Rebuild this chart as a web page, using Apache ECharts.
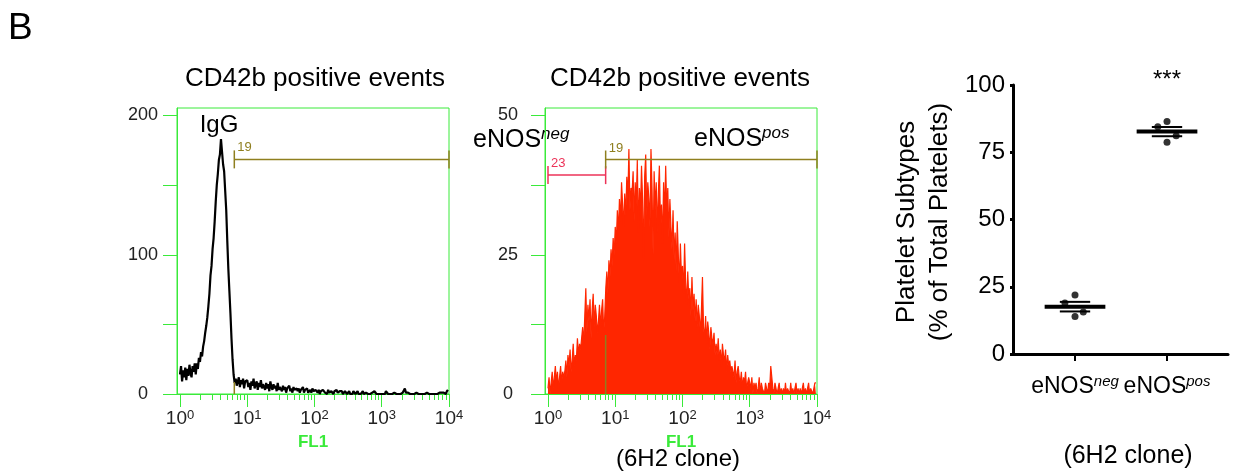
<!DOCTYPE html>
<html>
<head>
<meta charset="utf-8">
<script src="https://cdn.jsdelivr.net/npm/echarts@6/dist/echarts.min.js"></script>
<style>
  html, body { margin: 0; padding: 0; background: #fff; }
  #chart { width: 1252px; height: 475px; }
</style>
</head>
<body>
<div id="chart"></div>
<script>
  // FL1 histogram counts, 256 channels spread over 4 decades (64 per decade)
  const igGCounts = [
    14, 20, 9, 17, 12, 19, 10, 18, 13, 21, 15, 12, 20, 16, 22, 14,
    22, 18, 26, 23, 30, 27, 34, 38, 44, 49, 55, 63, 72, 85, 92, 104,
    112, 124, 138, 150, 158, 168, 172, 183, 174, 165, 160, 146, 132, 110, 90, 74,
    58, 40, 25, 14, 8, 11, 6, 9, 12, 5, 10, 7, 11, 4, 9, 8,
    10, 5, 8, 3, 9, 6, 11, 4, 7, 9, 3, 8, 5, 10, 4, 7,
    6, 3, 8, 4, 7, 2, 9, 5, 3, 7, 4, 6, 2, 8, 3, 5,
    4, 2, 6, 3, 5, 1, 4, 3, 6, 2, 4, 1, 5, 3, 2, 4,
    2, 4, 1, 3, 2, 5, 1, 3, 2, 4, 1, 2, 3, 1, 4, 2,
    1, 3, 2, 1, 3, 0, 2, 1, 3, 2, 1, 2, 0, 3, 1, 2,
    2, 1, 0, 2, 1, 3, 1, 0, 2, 1, 2, 0, 1, 2, 1, 0,
    1, 2, 0, 1, 0, 2, 1, 0, 1, 2, 0, 1, 0, 1, 2, 0,
    0, 1, 2, 0, 1, 0, 1, 1, 0, 2, 1, 0, 1, 0, 1, 0,
    1, 0, 1, 0, 2, 1, 0, 1, 0, 1, 0, 1, 1, 0, 0, 1,
    0, 1, 0, 1, 1, 0, 4, 1, 0, 1, 0, 0, 1, 0, 0, 0,
    0, 1, 0, 0, 1, 0, 0, 0, 1, 0, 0, 1, 0, 0, 1, 0,
    0, 0, 1, 0, 1, 0, 0, 1, 0, 1, 0, 1, 1, 0, 2, 3
  ];
  const eNOSCounts = [
    1, 3, 0, 2, 4, 1, 3, 5, 2, 4, 1, 3, 5, 2, 4, 3,
    4, 6, 3, 7, 5, 8, 4, 6, 9, 5, 7, 6, 10, 7, 9, 8,
    10, 12, 9, 14, 19, 11, 16, 13, 17, 10, 15, 18, 12, 16, 14, 11,
    13, 16, 12, 15, 17, 11, 14, 19, 22, 18, 24, 21, 26, 23, 28, 25,
    30, 27, 33, 29, 35, 31, 38, 34, 30, 36, 32, 39, 35, 44, 33, 37,
    36, 40, 31, 38, 34, 42, 29, 37, 33, 41, 35, 24, 39, 43, 32, 38,
    35, 30, 44, 37, 25, 40, 33, 38, 29, 36, 41, 31, 34, 27, 38, 32,
    41, 33, 37, 28, 35, 30, 26, 33, 24, 29, 22, 31, 25, 20, 27, 21,
    23, 18, 27, 20, 16, 22, 17, 19, 14, 21, 15, 18, 13, 17, 12, 16,
    14, 11, 15, 21, 12, 10, 14, 9, 13, 11, 8, 12, 10, 9, 11, 7,
    9, 7, 10, 6, 8, 5, 9, 7, 6, 8, 4, 7, 5, 6, 4, 5,
    5, 3, 6, 2, 4, 5, 3, 2, 4, 1, 3, 2, 4, 1, 2, 3,
    2, 1, 3, 0, 2, 1, 2, 0, 1, 3, 0, 2, 1, 1, 0, 2,
    1, 0, 2, 1, 5, 3, 1, 0, 2, 1, 0, 1, 2, 0, 1, 0,
    1, 0, 2, 0, 1, 1, 0, 2, 0, 1, 0, 1, 2, 0, 1, 0,
    1, 0, 1, 2, 0, 1, 0, 1, 2, 0, 1, 1, 0, 1, 2, 2
  ];
  const DECADES = 4;

  // gates: [start, end, level, foot height, label, kind]
  const igGGates = [[6.42, 10000, 168.5, 8.6, '19', 'pos']];
  const eNOSGates = [[1, 7.2, 39.3, 0, '23', 'neg'], [7.2, 10000, 42.1, 10.6, '19', 'pos']];

  // axis ticks
  const decadeTicks = [1, 10, 100, 1000, 10000];
  const igGTicks = [0, 50, 100, 150, 200];
  const igGLabels = [0, 100, 200];
  const eNOSTicks = [0, 12.5, 25, 37.5, 50];
  const eNOSLabels = [0, 25, 50];

  // platelet subtypes, % of total platelets
  const subtypeNames = ['neg', 'pos'];
  const negValues = [21.9, 19.0, 15.6, 13.9];
  const negJitter = [0, -0.11, 0.09, 0];
  const posValues = [86.4, 84.5, 81.1, 78.7];
  const posJitter = [0, -0.1, 0.1, 0];

  const FONT = "'Liberation Sans', Arial, Helvetica, sans-serif";
  const GREEN = '#3aea3a';
  const OLIVE = '#8f7f1f';
  const GATE_RED = '#ec3358';
  const HIST_RED = '#ff2600';

  const minorTicks = [];
  for (let k = 0; k < DECADES; k++) {
    for (let m = 2; m <= 9; m++) minorTicks.push(m * Math.pow(10, k));
  }

  function channelPoints(counts) {
    return counts.map((c, i) => [Math.pow(10, (i * DECADES) / counts.length), c]);
  }

  function mean(arr) {
    return arr.reduce((s, v) => s + v, 0) / arr.length;
  }

  function sem(arr) {
    const m = mean(arr);
    const sd = Math.sqrt(arr.reduce((s, v) => s + (v - m) * (v - m), 0) / (arr.length - 1));
    return sd / Math.sqrt(arr.length);
  }

  function histXAxes(gridIndex) {
    const base = { type: 'log', logBase: 10, gridIndex, min: 0.9025, max: 10000, position: 'bottom', splitLine: { show: false } };
    return [
      Object.assign({}, base, {
        name: 'FL1',
        nameLocation: 'middle',
        nameGap: 31,
        nameTextStyle: { color: GREEN, fontWeight: 'bold', fontSize: 17, fontFamily: FONT },
        axisLine: { show: true, lineStyle: { color: GREEN, width: 1 } },
        axisTick: { show: true, length: 13, customValues: decadeTicks, lineStyle: { color: GREEN } },
        axisLabel: {
          customValues: decadeTicks,
          margin: 15,
          formatter: (v) => '{b|10}{s|' + Math.round(Math.log10(v)) + '}',
          rich: {
            b: { fontSize: 19, fontFamily: FONT, color: '#222', lineHeight: 20 },
            s: { fontSize: 13, fontFamily: FONT, color: '#222', verticalAlign: 'top', lineHeight: 13 }
          }
        }
      }),
      Object.assign({}, base, {
        axisLine: { show: false },
        axisLabel: { show: false },
        axisTick: { show: true, length: 6, customValues: minorTicks, lineStyle: { color: GREEN } }
      })
    ];
  }

  function histYAxis(gridIndex, max, ticks, labels, margin) {
    return {
      type: 'value', gridIndex, min: 0, max,
      splitLine: { show: false },
      axisLine: { show: true, lineStyle: { color: GREEN } },
      axisTick: { show: true, length: 14, customValues: ticks, lineStyle: { color: GREEN } },
      axisLabel: { customValues: labels, margin, align: 'center', fontSize: 18, color: '#222', fontFamily: FONT }
    };
  }

  function gateSeries(xAxisIndex, yAxisIndex, gates) {
    return {
      type: 'custom', xAxisIndex, yAxisIndex, silent: true, z: 5,
      data: gates.map((g) => [g[0], g[1], g[2], g[3]]),
      renderItem(params, api) {
        const g = gates[params.dataIndex];
        const color = g[5] === 'neg' ? GATE_RED : OLIVE;
        const stroke = { stroke: color, lineWidth: 1.5 };
        const a = api.coord([api.value(0), api.value(2)]);
        const b = api.coord([api.value(1), api.value(2)]);
        const children = [
          { type: 'line', shape: { x1: a[0], y1: a[1], x2: b[0], y2: b[1] }, style: stroke },
          { type: 'line', shape: { x1: a[0], y1: a[1] - 9, x2: a[0], y2: a[1] + 9 }, style: stroke },
          { type: 'line', shape: { x1: b[0], y1: b[1] - 9, x2: b[0], y2: b[1] + 9 }, style: stroke },
          { type: 'text', style: { text: g[4], x: a[0] + 3, y: a[1] - 5, fill: color, fontSize: 13, fontFamily: FONT, verticalAlign: 'bottom' } }
        ];
        if (api.value(3) > 0) {
          const f0 = api.coord([api.value(0), 0]);
          const f1 = api.coord([api.value(0), api.value(3)]);
          children.push({ type: 'line', shape: { x1: f0[0], y1: f0[1], x2: f1[0], y2: f1[1] }, style: stroke });
        }
        return { type: 'group', children };
      }
    };
  }

  const supRich = {
    m: { fontSize: 23, fontFamily: FONT, color: '#000', lineHeight: 26 },
    s: { fontSize: 15, fontFamily: FONT, color: '#000', fontStyle: 'italic', verticalAlign: 'top', lineHeight: 15 }
  };

  const chart = echarts.init(document.getElementById('chart'), null, { renderer: 'canvas' });

  chart.setOption({
    animation: false,
    backgroundColor: '#fff',
    grid: [
      { left: 177, top: 108, width: 272, height: 286, show: true, borderColor: GREEN, borderWidth: 1 },
      { left: 545, top: 108, width: 272, height: 286, show: true, borderColor: GREEN, borderWidth: 1 },
      { left: 1013, top: 85, width: 215, height: 269 }
    ],
    xAxis: histXAxes(0).concat(histXAxes(1), [{
      type: 'value', gridIndex: 2, min: 0.326, max: 2.663,
      splitLine: { show: false },
      axisLine: { show: true, lineStyle: { color: '#000', width: 3 } },
      axisTick: { show: true, length: 7, customValues: [1, 2], lineStyle: { color: '#000', width: 2 } },
      axisLabel: {
        customValues: [1, 2],
        margin: 20,
        formatter: (v) => '{m|eNOS}{s|' + subtypeNames[Math.round(v) - 1] + '}',
        rich: supRich
      }
    }]),
    yAxis: [
      histYAxis(0, 205.4, igGTicks, igGLabels, 34),
      histYAxis(1, 51.35, eNOSTicks, eNOSLabels, 37),
      {
        type: 'value', gridIndex: 2, min: 0, max: 100, interval: 25,
        splitLine: { show: false },
        axisLine: { show: true, lineStyle: { color: '#000', width: 3 } },
        axisTick: { show: true, length: 3, lineStyle: { color: '#000', width: 3 } },
        axisLabel: { fontSize: 24, color: '#000', fontFamily: FONT, margin: 8, padding: [10, 0, 0, 0] }
      }
    ],
    series: [
      {
        type: 'line', xAxisIndex: 0, yAxisIndex: 0, data: channelPoints(igGCounts),
        showSymbol: false, silent: true, lineStyle: { color: '#000', width: 2.2 }
      },
      {
        type: 'line', xAxisIndex: 2, yAxisIndex: 1, data: channelPoints(eNOSCounts),
        showSymbol: false, silent: true, lineStyle: { color: HIST_RED, width: 1.2 },
        areaStyle: { color: HIST_RED, opacity: 1 }
      },
      gateSeries(0, 0, igGGates),
      gateSeries(2, 1, eNOSGates),
      {
        type: 'scatter', xAxisIndex: 4, yAxisIndex: 2, symbolSize: 7, itemStyle: { color: '#000' },
        data: negValues.map((v, k) => [1 + negJitter[k], v]).concat(posValues.map((v, k) => [2 + posJitter[k], v]))
      },
      {
        type: 'custom', xAxisIndex: 4, yAxisIndex: 2, silent: true, z: 3,
        data: [[1, mean(negValues), sem(negValues)], [2, mean(posValues), sem(posValues)]],
        renderItem(params, api) {
          const x = api.value(0), m = api.value(1), s = api.value(2);
          const seg = (x0, x1, y, w) => {
            const p0 = api.coord([x0, y]);
            const p1 = api.coord([x1, y]);
            return { type: 'line', shape: { x1: p0[0], y1: p0[1], x2: p1[0], y2: p1[1] }, style: { stroke: '#000', lineWidth: w } };
          };
          return {
            type: 'group',
            children: [
              seg(x - 0.33, x + 0.33, m, 4),
              seg(x - 0.165, x + 0.165, m + s, 2),
              seg(x - 0.165, x + 0.165, m - s, 2)
            ]
          };
        }
      }
    ],
    graphic: [
      { type: 'text', x: 8, y: 29, style: { text: 'B', fontSize: 37, fontFamily: FONT, fill: '#000', verticalAlign: 'middle' } },
      { type: 'text', x: 315, y: 79, style: { text: 'CD42b positive events', fontSize: 26, fontFamily: FONT, fill: '#000', align: 'center', verticalAlign: 'middle' } },
      { type: 'text', x: 680, y: 79, style: { text: 'CD42b positive events', fontSize: 26, fontFamily: FONT, fill: '#000', align: 'center', verticalAlign: 'middle' } },
      { type: 'text', x: 219, y: 125, style: { text: 'IgG', fontSize: 24, fontFamily: FONT, fill: '#000', align: 'center', verticalAlign: 'middle' } },
      {
        type: 'text', x: 473, y: 140,
        style: {
          text: '{m|eNOS}{s|neg}', verticalAlign: 'middle',
          rich: { m: { fontSize: 25, fontFamily: FONT, fill: '#000', lineHeight: 28 }, s: { fontSize: 17, fontFamily: FONT, fontStyle: 'italic', fill: '#000', verticalAlign: 'top', lineHeight: 17 } }
        }
      },
      {
        type: 'text', x: 694, y: 139,
        style: {
          text: '{m|eNOS}{s|pos}', verticalAlign: 'middle',
          rich: { m: { fontSize: 25, fontFamily: FONT, fill: '#000', lineHeight: 28 }, s: { fontSize: 17, fontFamily: FONT, fontStyle: 'italic', fill: '#000', verticalAlign: 'top', lineHeight: 17 } }
        }
      },
      { type: 'text', x: 678, y: 459, style: { text: '(6H2 clone)', fontSize: 24, fontFamily: FONT, fill: '#000', align: 'center', verticalAlign: 'middle' } },
      { type: 'text', x: 1128, y: 456, style: { text: '(6H2 clone)', fontSize: 25, fontFamily: FONT, fill: '#000', align: 'center', verticalAlign: 'middle' } },
      { type: 'text', x: 1167, y: 80, style: { text: '***', fontSize: 24, fontFamily: FONT, fill: '#000', align: 'center', verticalAlign: 'middle' } },
      {
        type: 'text', x: 923, y: 222, rotation: Math.PI / 2,
        style: { text: 'Platelet Subtypes\n(% of Total Platelets)', fontSize: 26, lineHeight: 33, fontFamily: FONT, fill: '#000', align: 'center', verticalAlign: 'middle' }
      }
    ]
  });
</script>
</body>
</html>
